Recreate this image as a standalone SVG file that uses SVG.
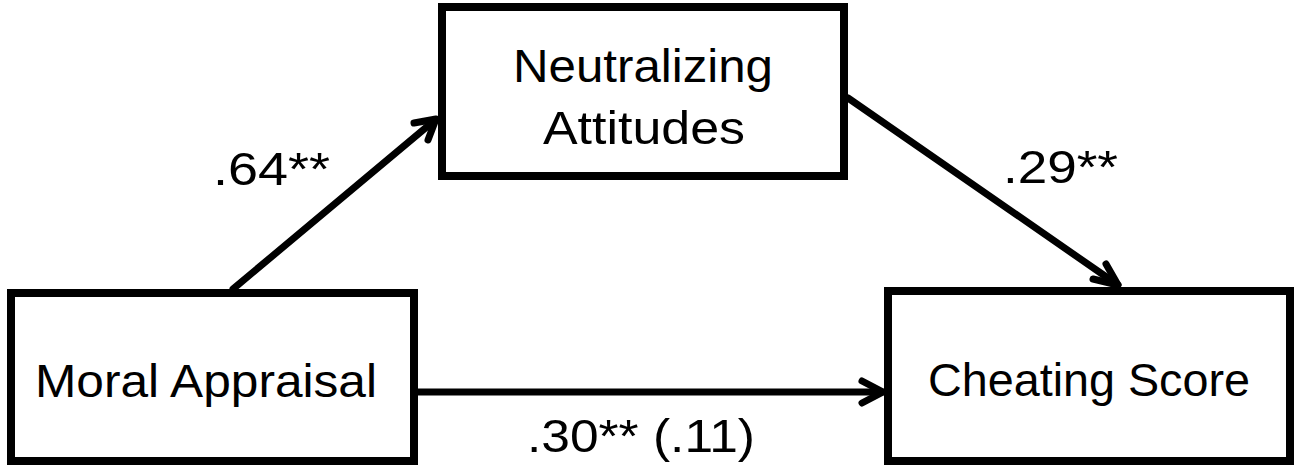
<svg xmlns="http://www.w3.org/2000/svg" width="1295" height="466" viewBox="0 0 1295 466">
<style>
.box{fill:#fff;stroke:#000;stroke-width:8}
.t{font-family:"Liberation Sans",Arial,sans-serif;font-size:46px;fill:#000}
.c{stroke:#000;stroke-width:7;fill:none;stroke-linecap:round}
.h{stroke:#000;stroke-width:7;fill:none;stroke-linecap:round;stroke-linejoin:round}
</style>
<rect width="1295" height="466" fill="#fff"/>
<g id="connectors">
<line class="c" x1="233" y1="289" x2="435" y2="120"/>
<polyline class="h" points="414,123 436,119 428,140"/>
<line class="c" x1="848" y1="98" x2="1118" y2="285"/>
<polyline class="h" points="1093,279 1118,285 1106,264"/>
<line class="c" x1="418" y1="392" x2="882" y2="392"/>
<polyline class="h" points="862,381 883,392 862,403"/>
</g>
<g id="neutralizing">
<rect class="box" x="442" y="7" width="402" height="169"/>
<text class="t" x="513" y="82" textLength="260" lengthAdjust="spacingAndGlyphs">Neutralizing</text>
<text class="t" x="543" y="144" textLength="202" lengthAdjust="spacingAndGlyphs">Attitudes</text>
</g>
<g id="moral">
<rect class="box" x="11" y="293" width="403" height="168"/>
<text class="t" x="35" y="397" textLength="342" lengthAdjust="spacingAndGlyphs">Moral Appraisal</text>
</g>
<g id="cheating">
<rect class="box" x="888" y="291" width="402" height="170"/>
<text class="t" x="928" y="396" textLength="322" lengthAdjust="spacingAndGlyphs">Cheating Score</text>
</g>
<g id="labels">
<text class="t" x="213" y="185" textLength="117" lengthAdjust="spacingAndGlyphs">.64**</text>
<text class="t" x="1003" y="183" textLength="115" lengthAdjust="spacingAndGlyphs">.29**</text>
<text class="t" x="527" y="452" textLength="228" lengthAdjust="spacingAndGlyphs">.30** (.11)</text>
</g>
</svg>
